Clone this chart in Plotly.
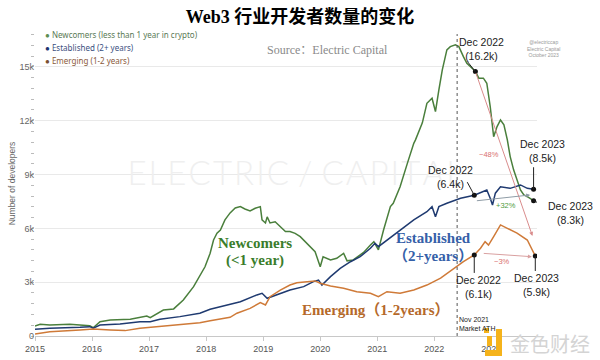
import numpy as np
import plotly.graph_objects as go

# ---------------- data ----------------
newcomers_x = [2015.00, 2015.09, 2015.26, 2015.61, 2015.96, 2016.02, 2016.14, 2016.32, 2016.67, 2016.84,
               2016.96, 2017.02, 2017.14, 2017.25, 2017.43, 2017.60, 2017.78, 2017.89, 2017.98, 2018.07,
               2018.13, 2018.19, 2018.25, 2018.33, 2018.42, 2018.51, 2018.60, 2018.68, 2018.77, 2018.86,
               2018.95, 2018.98, 2019.04, 2019.07, 2019.12, 2019.21, 2019.30, 2019.39, 2019.47, 2019.56,
               2019.65, 2019.74, 2019.82, 2019.91, 2020.00, 2020.05, 2020.18, 2020.29, 2020.41, 2020.47,
               2020.58, 2020.76, 2020.88, 2020.94, 2021.02, 2021.11, 2021.23, 2021.28, 2021.40, 2021.46,
               2021.53, 2021.64, 2021.67, 2021.79, 2021.87, 2021.96, 2022.02, 2022.08, 2022.14, 2022.22,
               2022.28, 2022.37, 2022.43, 2022.51, 2022.57, 2022.63, 2022.72, 2022.78, 2022.86, 2022.92,
               2022.98, 2023.04, 2023.10, 2023.16, 2023.22, 2023.28, 2023.33, 2023.39, 2023.45, 2023.51,
               2023.57, 2023.63, 2023.74]
newcomers_y = [560, 650, 610, 650, 575, 460, 800, 890, 930, 1040,
               1110, 1020, 1270, 1450, 1510, 2010, 2750, 3400, 3860, 4610,
               5350, 5730, 5910, 6470, 6860, 7140, 7210, 7080, 6970, 7120,
               7210, 6470, 6300, 6640, 6300, 6370, 6090, 5820, 5820, 5720,
               5540, 5260, 4980, 4700, 3860, 4420, 4240, 4330, 4610, 4190,
               4240, 4660, 5070, 5260, 4800, 5910, 7210, 7400, 8320, 8880,
               9650, 10740, 10930, 11880, 12970, 13250, 12510, 13720, 14830, 15950,
               16130, 16230, 16130, 15570, 15200, 15020, 14740, 14370, 14370, 14090,
               12790, 11110, 11670, 12040, 11770, 10930, 10000, 9260, 8700, 8140,
               7860, 7770, 7540]

established_x = [2015.00, 2015.26, 2015.79, 2015.96, 2016.02, 2016.14, 2016.49, 2016.84, 2017.02, 2017.19,
                 2017.54, 2017.89, 2018.07, 2018.25, 2018.42, 2018.60, 2018.89, 2018.98, 2019.07, 2019.24,
                 2019.47, 2019.71, 2019.88, 2019.97, 2020.03, 2020.18, 2020.35, 2020.53, 2020.70, 2020.88,
                 2020.96, 2021.02, 2021.17, 2021.40, 2021.64, 2021.87, 2021.96, 2022.02, 2022.08, 2022.22,
                 2022.46, 2022.70, 2022.84, 2022.92, 2022.98, 2023.02, 2023.07, 2023.16, 2023.33, 2023.51,
                 2023.63, 2023.74]
established_y = [370, 430, 485, 520, 430, 610, 670, 800, 800, 930,
                 1080, 1270, 1490, 1630, 1730, 1910, 2290, 2380, 2100, 2290,
                 2560, 2750, 3030, 3120, 2840, 3310, 3770, 4140, 4420, 4890,
                 5170, 4980, 5350, 5910, 6470, 6930, 7210, 6650, 7210, 7400,
                 7680, 7850, 8050, 8140, 7680, 7300, 7960, 8320, 8230, 8420,
                 8230, 8180]

emerging_x = [2015.00, 2015.26, 2015.79, 2016.02, 2016.32, 2016.58, 2016.84, 2017.02, 2017.19, 2017.49,
              2017.72, 2017.89, 2018.07, 2018.25, 2018.42, 2018.54, 2018.77, 2018.95, 2019.04, 2019.12,
              2019.30, 2019.47, 2019.59, 2019.77, 2019.91, 2020.00, 2020.18, 2020.41, 2020.64, 2020.88,
              2021.02, 2021.17, 2021.40, 2021.64, 2021.87, 2022.11, 2022.34, 2022.51, 2022.70, 2022.81,
              2022.89, 2022.95, 2023.04, 2023.16, 2023.28, 2023.45, 2023.63, 2023.71, 2023.77]
emerging_y = [110, 240, 335, 390, 335, 300, 430, 485, 520, 610,
              710, 740, 850, 965, 1040, 1270, 1540, 1860, 1730, 2190,
              2560, 2840, 2970, 3030, 3070, 2940, 2790, 2660, 2470, 2380,
              2190, 2470, 2380, 2560, 2840, 3220, 3770, 4140, 4520, 4890,
              5260, 5070, 5540, 6190, 6000, 5730, 5350, 4890, 4460]

year_ticks = [2015, 2016, 2017, 2018, 2019, 2020, 2021, 2022, 2023]
year_labels = ["2015", "2016", "2017", "2018", "2019", "2020", "2021", "2022", "2023"]
y_ticks = [0, 3000, 6000, 9000, 12000, 15000]
y_labels = ["0", "3k", "6k", "9k", "12k", "15k"]

series_names = ["Newcomers (less than 1 year in crypto)", "Established (2+ years)", "Emerging (1-2 years)"]

# callout positions (Dec 2022, Dec 2023) on each series
callout_dates = {"new": (2022.72, 2023.74), "est": (2022.70, 2023.74), "emg": (2022.70, 2023.77)}
callout_texts = {"new": ("Dec 2022<br>(16.2k)", "Dec 2023<br>(8.3k)"),
                 "est": ("Dec 2022<br>(6.4k)", "Dec 2023<br>(8.5k)"),
                 "emg": ("Dec 2022<br>(6.1k)", "Dec 2023<br>(5.9k)")}
# change arrows: (tail_x, tail_y, head_x, head_y, label, label_x, label_y)
change_arrows = [
    (2022.72, 14740, 2023.72, 5580, "−48%", 2022.95, 10090),
    (2022.72, 7530, 2023.68, 7860, "+32%", 2023.25, 7250),
    (2022.84, 4610, 2023.71, 4420, "−3%", 2023.19, 4130),
]
ath_x = 2022.40

# ---------------- styling ----------------
W, H = 600, 360
L, R, T, B = 35, 63, 31, 24
C_NEW, C_EST, C_EMG = "#4a7f3c", "#1f3a70", "#cf7a38"

def pxx(p):
    return (p - L) / (W - L - R)

def pxy(p):
    return (H - B - p) / (H - T - B)

fig = go.Figure()

# faint watermark behind the lines
wm = "\u200a".join("ELECTRIC") + " / " + "\u200a".join("CAPITAL")
fig.add_trace(go.Scatter(x=[2019.56], y=[8870], mode="text", text=[wm],
                         textfont=dict(family="Lato", size=33, color="#efefef", weight=300),
                         hoverinfo="skip", showlegend=False))

for xs, ys, c, n in [(newcomers_x, newcomers_y, C_NEW, series_names[0]),
                     (established_x, established_y, C_EST, series_names[1]),
                     (emerging_x, emerging_y, C_EMG, series_names[2])]:
    fig.add_trace(go.Scatter(x=xs, y=ys, mode="lines", name=n,
                             line=dict(color=c, width=1.5), showlegend=False))

series_data = {"new": (newcomers_x, newcomers_y), "est": (established_x, established_y),
               "emg": (emerging_x, emerging_y)}
dot_x, dot_y = [], []
for k, (xs, ys) in series_data.items():
    for d in callout_dates[k]:
        dot_x.append(d)
        dot_y.append(float(np.interp(d, xs, ys)))

fig.add_trace(go.Scatter(x=dot_x, y=dot_y, mode="markers",
                         marker=dict(color="#111", size=5), showlegend=False, hoverinfo="skip"))

# leader lines (pixel offsets from dots) and callout text offsets
leader = [(-8, 10), (13, -6), (-7, 13), (0, 22), (0, -18), (0, -15)]
shift = [(6, 23), (37, -12), (-24, 18), (9, 38), (4, -32), (1, -29)]
texts = [callout_texts["new"][0], callout_texts["new"][1], callout_texts["est"][0],
         callout_texts["est"][1], callout_texts["emg"][0], callout_texts["emg"][1]]

shapes = []
annotations = []
for (cx, cy), (dx, dy), (sx, sy), t in zip(zip(dot_x, dot_y), leader, shift, texts):
    shapes.append(dict(type="line", xref="x", yref="y", xsizemode="pixel", ysizemode="pixel",
                       xanchor=cx, yanchor=cy, x0=0, y0=0, x1=dx, y1=dy,
                       line=dict(color="#222", width=1)))
    annotations.append(dict(x=cx, y=cy, xref="x", yref="y", text=t, showarrow=False,
                            xshift=sx, yshift=sy, xanchor="center", yanchor="middle",
                            font=dict(family="Liberation Sans, Arial", size=10.5, color="#222")))

arrow_colors = ["#d98c8c", "#8f9ca6", "#d9a0a0"]
label_colors = ["#d9706f", "#4f9a3c", "#d9706f"]
for (tx, ty, hx, hy, lab, lx, ly), ac, lc in zip(change_arrows, arrow_colors, label_colors):
    annotations.append(dict(x=hx, y=hy, ax=tx, ay=ty, xref="x", yref="y", axref="x", ayref="y",
                            text="", showarrow=True, arrowhead=2, arrowsize=0.8, arrowwidth=1,
                            arrowcolor=ac))
    annotations.append(dict(x=lx, y=ly, xref="x", yref="y", text=lab, showarrow=False,
                            xanchor="center", yanchor="middle",
                            font=dict(family="Liberation Sans, Arial", size=7.5, color=lc)))

# ATH dashed line
shapes.append(dict(type="line", xref="x", yref="paper", x0=ath_x, x1=ath_x, y0=0, y1=0.99,
                   line=dict(color="#555", width=1, dash="dot")))
annotations.append(dict(x=ath_x, y=0, xref="x", yref="paper", xanchor="left", yanchor="bottom",
                        xshift=0, yshift=2, align="left", showarrow=False,
                        text="Nov 2021<br>Market ATH",
                        font=dict(family="Liberation Sans, Arial", size=7, color="#222")))

# series labels in the plot
serif = "Liberation Serif, Noto Sans CJK SC"
for txt, x, y, c in [("Newcomers", 255, 243, "#3a7d2b"), ("(<1 year)", 255, 260, "#3a7d2b"),
                     ("Established", 433, 238, "#3560a8"), ("（2+years）", 433, 256, "#3560a8"),
                     ("Emerging（1-2years）", 375, 310, "#b5692a")]:
    annotations.append(dict(x=pxx(x), y=pxy(y), xref="paper", yref="paper", text=f"<b>{txt}</b>",
                            xanchor="center", yanchor="middle",
                            showarrow=False, font=dict(family=serif, size=15, color=c)))

# legend (top-left)
for i, (n, dc, tc) in enumerate(zip(series_names, ["#5e8f52", "#1e3570", "#7a5030"],
                                    ["#5a7a55", "#3b4f80", "#8a5a3a"])):
    annotations.append(dict(x=pxx(43), y=pxy(35 + i * 12.5), xref="paper", yref="paper",
                            xanchor="left", yanchor="middle", showarrow=False,
                            text=f"<span style='color:{dc}'>●</span> {n}",
                            font=dict(family="Noto Sans", size=8, color=tc)))

# credit at top-right
annotations.append(dict(x=pxx(543), y=pxy(48.5), xref="paper", yref="paper", showarrow=False,
                        xanchor="center", yanchor="middle",
                        text="@electriccap<br>Electric Capital<br>October 2023",
                        font=dict(family="Liberation Sans", size=5, color="#9a9a9a")))

# source line
annotations.append(dict(x=pxx(327), y=pxy(50), xref="paper", yref="paper", showarrow=False,
                        xanchor="center", yanchor="middle",
                        text="Source：Electric Capital",
                        font=dict(family=serif, size=12, color="#8a8a8a")))

# bottom-right watermark logo + text
logo = [(484, 328, 489, 333), (496, 329, 502, 356), (485, 350, 502, 356), (487, 336, 492, 346)]
for x0, y0, x1, y1 in logo:
    shapes.append(dict(type="rect", xref="paper", yref="paper", x0=pxx(x0), x1=pxx(x1),
                       y0=pxy(y1), y1=pxy(y0), fillcolor="#f5b31b", line=dict(width=0),
                       layer="above"))
annotations.append(dict(x=pxx(550), y=pxy(343), xref="paper", yref="paper", showarrow=False,
                        xanchor="center", yanchor="middle",
                        text="金色财经",
                        font=dict(family="Noto Sans CJK SC", size=20, color="#d4d4d4")))

fig.update_layout(
    width=W, height=H,
    margin=dict(l=L, r=R, t=T, b=B, autoexpand=False),
    paper_bgcolor="white", plot_bgcolor="white",
    title=dict(text="<b>Web3 行业开发者数量的变化</b>", x=0.5, xanchor="center",
               y=1 - 17 / H, yanchor="middle",
               font=dict(family=serif, size=18, color="#000")),
    xaxis=dict(range=[2015, 2023.80], tickvals=year_ticks, ticktext=year_labels, automargin=False,
               showgrid=False, zeroline=False, showline=True, linecolor="#c8c8c8",
               ticks="outside", ticklen=4, tickcolor="#c8c8c8",
               tickfont=dict(family="Liberation Sans, Arial", size=9, color="#555")),
    yaxis=dict(range=[0, 17000], tickvals=y_ticks, ticktext=y_labels, automargin=False,
               showgrid=True, gridcolor="#e9e9e9", gridwidth=1, zeroline=False,
               ticks="", tickfont=dict(family="Liberation Sans, Arial", size=9, color="#666"),
               minor=dict(dtick=600, ticks="outside", ticklen=3, tickcolor="#bbbbbb", showgrid=False),
               title=dict(text="Number of developers", standoff=2,
                          font=dict(family="Liberation Sans, Arial", size=8.5, color="#666"))),
    shapes=shapes,
    annotations=annotations,
    showlegend=False,
)

fig.write_html("out.html", config={"displayModeBar": False},
               post_script="document.body.style.margin='0';")
